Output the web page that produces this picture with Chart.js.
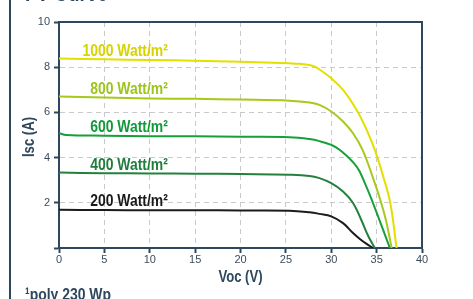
<!DOCTYPE html>
<html>
<head>
<meta charset="utf-8">
<script src="https://cdn.jsdelivr.net/npm/chart.js@4.4.1/dist/chart.umd.min.js"></script>
<style>
  html, body { margin: 0; padding: 0; background: #fff; overflow: hidden; }
  #wrap { position: relative; width: 473px; height: 299px; }
  #frame { position: absolute; left: 9px; top: 0; width: 2px; height: 299px; background: #2e475d; }
  .txt { position: absolute; font-family: 'Liberation Sans', Arial, sans-serif; font-weight: bold;
         color: #2e475d; white-space: nowrap; transform: scaleX(0.82); transform-origin: 0 0; }
  #title { left: 25px; top: -18.5px; font-size: 23px; line-height: 23px; }
  #foot { left: 25px; top: 286px; font-size: 17px; line-height: 17px; }
  canvas { position: absolute; left: 0; top: 0; }
</style>
</head>
<body>
<div id="wrap">
  <canvas id="ivChart" width="473" height="299"></canvas>
  <div id="frame"></div>
  <div id="title" class="txt">I-V Curve</div>
  <div id="foot" class="txt">¹poly 230 Wp</div>
</div>
<script>
// Voltage (V) / current (A)
const voltage1000 = [0, 5, 10, 15, 20, 25.4, 26.5, 27.6, 28.2, 28.7, 30, 31.3, 32.8, 33.9, 34.8, 35.7, 36.5, 37.2];
const current1000 = [8.38, 8.35, 8.32, 8.29, 8.24, 8.17, 8.15, 8.10, 8.02, 7.90, 7.51, 7.0, 6.11, 5.23, 4.34, 3.2, 2.0, 0];

const voltage800 = [0, 5, 10, 15, 20, 25.4, 27.6, 28.7, 30, 31.3, 32.4, 33.45, 34.8, 35.5, 36.1, 36.65];
const current800 = [6.70, 6.66, 6.62, 6.60, 6.57, 6.52, 6.44, 6.33, 6.04, 5.6, 5.08, 4.34, 2.87, 2.0, 1.1, 0];

const voltage600 = [0, 0.8, 5, 10, 15, 20, 25.4, 27.6, 28.7, 30, 30.95, 32.8, 33.7, 34.6, 35.5, 36.46];
const current600 = [5.08, 5.0, 4.97, 4.95, 4.94, 4.92, 4.90, 4.82, 4.73, 4.56, 4.34, 3.6, 2.87, 1.99, 1.03, 0];

const voltage400 = [0, 5, 10, 15, 20, 25.4, 27.6, 28.7, 30, 31.3, 32.4, 33.3, 34.1, 34.8];
const current400 = [3.34, 3.31, 3.30, 3.29, 3.27, 3.24, 3.19, 3.09, 2.87, 2.5, 1.99, 1.25, 0.51, 0];

const voltage200 = [0, 5, 10, 15, 20, 25.4, 27.6, 28.7, 30, 31.3, 32.4, 33.15, 33.9, 34.6];
const current200 = [1.69, 1.68, 1.67, 1.67, 1.66, 1.65, 1.58, 1.51, 1.40, 1.10, 0.66, 0.40, 0.18, 0];

const seriesNames = ['1000 Watt/m²', '800 Watt/m²', '600 Watt/m²', '400 Watt/m²', '200 Watt/m²'];
const xTicks = [0, 5, 10, 15, 20, 25, 30, 35, 40];
const yTicks = [0, 2, 4, 6, 8, 10];
const xTitle = 'Voc (V)';
const yTitle = 'Isc (A)';

const NAVY = '#2e475d';
const lineColors = ['#e3df00', '#a6c91c', '#17a03a', '#23813d', '#1b1b1b'];
const textColors = ['#d6d300', '#9cc41e', '#119a3a', '#1f7e3c', '#1a1a1a'];
// label anchors (right edge, baseline) in data units
const labelAnchor = [[12.0, 8.50], [12.0, 6.80], [12.0, 5.14], [12.0, 3.43], [12.0, 1.84]];
const SQUEEZE = 0.82;

const toPoints = (xs, ys) => xs.map((x, i) => ({ x: x, y: ys[i] }));
const allSeries = [
  toPoints(voltage1000, current1000),
  toPoints(voltage800, current800),
  toPoints(voltage600, current600),
  toPoints(voltage400, current400),
  toPoints(voltage200, current200)
];

// condensed bold text, the fonts here have no narrow cut
function narrowText(ctx, text, x, y, align, rotate) {
  ctx.save();
  ctx.translate(x, y);
  if (rotate) ctx.rotate(rotate);
  ctx.scale(SQUEEZE, 1);
  ctx.textAlign = align;
  ctx.fillText(text, 0, 0);
  ctx.restore();
}

const curveLabels = {
  id: 'curveLabels',
  afterDatasetsDraw(chart) {
    const { ctx, scales: { x, y }, chartArea } = chart;
    ctx.save();
    ctx.textBaseline = 'alphabetic';
    ctx.font = "bold 17px 'Liberation Sans', Arial, sans-serif";
    seriesNames.forEach((name, i) => {
      ctx.fillStyle = textColors[i];
      narrowText(ctx, name, x.getPixelForValue(labelAnchor[i][0]), y.getPixelForValue(labelAnchor[i][1]), 'right');
    });
    // axis titles
    ctx.fillStyle = NAVY;
    ctx.font = "bold 16px 'Liberation Sans', Arial, sans-serif";
    ctx.textBaseline = 'middle';
    narrowText(ctx, xTitle, (chartArea.left + chartArea.right) / 2, 278, 'center');
    narrowText(ctx, yTitle, 30, (chartArea.top + chartArea.bottom) / 2 + 2, 'center', -Math.PI / 2);
    ctx.restore();
  }
};

const tickFont = { family: "'Liberation Sans', Arial, sans-serif", size: 11 };
const gridOpts = {
  color: '#c9c9c9', tickLength: 5, tickColor: NAVY, tickWidth: 2, tickBorderDash: [], drawTicks: true
};

new Chart(document.getElementById('ivChart'), {
  type: 'line',
  data: {
    datasets: allSeries.map((pts, i) => ({
      label: seriesNames[i],
      data: pts,
      borderColor: lineColors[i],
      borderWidth: 2,
      pointRadius: 0,
      fill: false,
      tension: 0.4
    }))
  },
  options: {
    responsive: false,
    animation: false,
    layout: { padding: { top: 22, right: 51, left: 0, bottom: 0 } },
    plugins: { legend: { display: false }, tooltip: { enabled: false } },
    scales: {
      x: {
        type: 'linear',
        min: 0, max: 40,
        afterBuildTicks: s => { s.ticks = xTicks.map(v => ({ value: v })); },
        afterFit: s => { s.height = 51; },
        ticks: { color: '#3c4c5c', font: tickFont, padding: 0, maxRotation: 0 },
        grid: gridOpts,
        border: { display: true, color: NAVY, width: 2, dash: [5, 4] }
      },
      y: {
        type: 'linear',
        min: 0, max: 10,
        afterBuildTicks: s => { s.ticks = yTicks.map(v => ({ value: v })); },
        afterFit: s => { s.width = 59; },
        ticks: { color: '#3c4c5c', font: tickFont, padding: 4, callback: v => v === 0 ? '' : v },
        grid: gridOpts,
        border: { display: true, color: NAVY, width: 2, dash: [5, 4] }
      },
      x2: {
        type: 'linear', position: 'top', min: 0, max: 40,
        afterFit: s => { s.height = 0; },
        ticks: { display: false },
        grid: { display: false },
        border: { display: true, color: NAVY, width: 2 }
      },
      y2: {
        type: 'linear', position: 'right', min: 0, max: 10,
        afterFit: s => { s.width = 0; },
        ticks: { display: false },
        grid: { display: false },
        border: { display: true, color: NAVY, width: 2 }
      }
    }
  },
  plugins: [curveLabels]
});
</script>
</body>
</html>
